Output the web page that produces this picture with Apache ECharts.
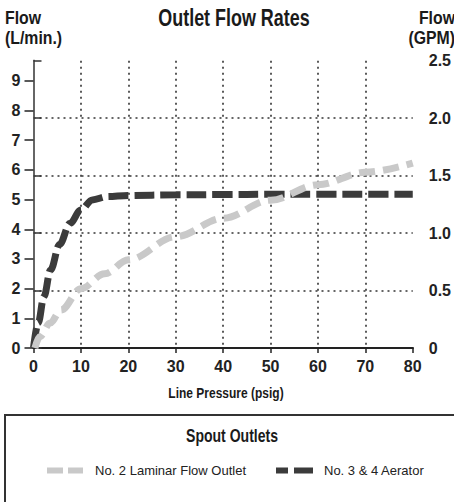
<!DOCTYPE html>
<html><head><meta charset="utf-8">
<script src="https://cdn.jsdelivr.net/npm/echarts@6/dist/echarts.min.js"></script>
<style>html,body{margin:0;padding:0;background:#fff}#c{width:454px;height:502px}</style>
</head><body><div id="c"></div>
<script>
// ---- data ----
const pressureTicks = [0, 10, 20, 30, 40, 50, 60, 70, 80];
const litreTicks = [0, 1, 2, 3, 4, 5, 6, 7, 8, 9];
const gpmTicks = [0, 0.5, 1.0, 1.5, 2.0, 2.5];
const aeratorPressure = [0, 1, 2.2, 3.6, 5.5, 7.7, 10, 12.4, 15.5, 20, 30, 40, 50, 60, 70, 80];
const aeratorFlow = [0, 0.85, 1.73, 2.63, 3.49, 4.2, 4.65, 4.99, 5.1, 5.14, 5.16, 5.17, 5.18, 5.18, 5.18, 5.18];
const laminarPressure = [0.3, 1.3, 3.5, 5.8, 10, 15, 20, 30, 40, 50, 60, 70, 80];
const laminarFlow = [0, 0.38, 0.84, 1.28, 2.0, 2.5, 2.97, 3.75, 4.37, 4.98, 5.5, 5.92, 6.23];
const seriesNames = ['No. 2 Laminar Flow Outlet', 'No. 3 & 4 Aerator'];

const F = "'Liberation Sans', Arial, sans-serif";
const TXT = '#222';
const DARK = '#3b3b3b';
const LIGHT = '#c9c9c9';
const DOT = { color: '#333', width: 1.6, type: [2, 4] };

const chart = echarts.init(document.getElementById('c'), null, { renderer: 'svg' });
chart.setOption({
  animation: false,
  backgroundColor: '#fff',
  grid: { left: 33.5, right: 36, top: 60.7, bottom: 154, containLabel: false },
  xAxis: [{
    type: 'value', min: pressureTicks[0], max: pressureTicks[pressureTicks.length - 1], interval: 10,
    position: 'bottom',
    axisLine: { show: true, lineStyle: { color: '#222', width: 2 } },
    axisTick: { show: true, length: 5, lineStyle: { color: '#222', width: 1.5 } },
    axisLabel: { margin: 10, fontFamily: F, fontWeight: 'bold', fontSize: 16, color: TXT },
    splitLine: { show: true, showMinLine: false, showMaxLine: false, lineStyle: DOT }
  }, {
    type: 'value', min: 0, max: 80, position: 'top',
    axisLine: { show: true, lineStyle: { color: '#222', width: 2 } },
    axisTick: { show: false }, axisLabel: { show: false }, splitLine: { show: false }
  }],
  yAxis: [{
    type: 'value', min: 0, max: 9.68, interval: 1, position: 'left',
    axisLine: { show: true, lineStyle: { color: '#222', width: 2 } },
    axisTick: { show: true, length: 9, customValues: litreTicks, lineStyle: { color: '#222', width: 1.5 } },
    axisLabel: { margin: 13, customValues: litreTicks, fontFamily: F, fontWeight: 'bold', fontSize: 16, color: TXT },
    splitLine: { show: false }
  }, {
    type: 'value', min: gpmTicks[0], max: gpmTicks[gpmTicks.length - 1], interval: 0.5, position: 'right',
    axisLine: { show: true, lineStyle: { color: '#666', width: 2 } },
    axisTick: { show: true, length: 8, lineStyle: { color: '#333', width: 1.5 } },
    axisLabel: { margin: 16, fontFamily: F, fontWeight: 'bold', fontSize: 16, color: TXT,
      formatter: v => v === 0 ? '0' : v.toFixed(1) },
    splitLine: { show: true, showMinLine: false, showMaxLine: false, lineStyle: DOT }
  }],
  legend: [{
    data: [seriesNames[0]], left: 39, top: 459, orient: 'horizontal', selectedMode: false,
    itemWidth: 36, itemHeight: 14,
    itemStyle: { color: 'rgba(0,0,0,0)', borderWidth: 0, opacity: 0 },
    lineStyle: { width: 6, type: [16, 5], cap: 'butt', color: LIGHT },
    textStyle: { fontFamily: F, fontSize: 13, color: TXT, padding: [0, 0, 0, 7] }
  }, {
    data: [seriesNames[1]], left: 268, top: 459, orient: 'horizontal', selectedMode: false,
    itemWidth: 37, itemHeight: 14,
    itemStyle: { color: 'rgba(0,0,0,0)', borderWidth: 0, opacity: 0 },
    lineStyle: { width: 6, type: [12, 6, 30, 1], cap: 'butt', color: DARK },
    textStyle: { fontFamily: F, fontSize: 13, color: TXT, padding: [0, 0, 0, 6] }
  }],
  graphic: [
    { type: 'text', x: 234, y: 18, scaleX: 0.78, style: { text: 'Outlet Flow Rates', fontFamily: F, fontWeight: 'bold', fontSize: 23, fill: '#1a1a1a', align: 'center', verticalAlign: 'middle' } },
    { type: 'text', x: 5, y: 8, scaleX: 0.88, style: { text: 'Flow\n(L/min.)', fontFamily: F, fontWeight: 'bold', fontSize: 18, lineHeight: 20, fill: '#1a1a1a', align: 'left', verticalAlign: 'top' } },
    { type: 'text', x: 455, y: 8, scaleX: 0.88, style: { text: 'Flow\n(GPM)', fontFamily: F, fontWeight: 'bold', fontSize: 18, lineHeight: 20, fill: '#1a1a1a', align: 'right', verticalAlign: 'top' } },
    { type: 'text', x: 226, y: 393, scaleX: 0.8, style: { text: 'Line Pressure (psig)', fontFamily: F, fontWeight: 'bold', fontSize: 15, fill: '#1a1a1a', align: 'center', verticalAlign: 'middle' } },
    { type: 'rect', shape: { x: 5, y: 415, width: 470, height: 120 }, style: { fill: 'none', stroke: '#333', lineWidth: 2 } },
    { type: 'text', x: 232, y: 435, scaleX: 0.78, style: { text: 'Spout Outlets', fontFamily: F, fontWeight: 'bold', fontSize: 18, fill: '#1a1a1a', align: 'center', verticalAlign: 'middle' } }
  ],
  series: [{
    name: seriesNames[1], type: 'line', xAxisIndex: 0, yAxisIndex: 0,
    data: aeratorPressure.map((p, i) => [p, aeratorFlow[i]]),
    smooth: 0.35, smoothMonotone: 'x', symbol: 'none', color: DARK,
    lineStyle: { color: DARK, width: 7, type: [20, 6], cap: 'butt' }, z: 3
  }, {
    name: seriesNames[0], type: 'line', xAxisIndex: 0, yAxisIndex: 0,
    data: laminarPressure.map((p, i) => [p, laminarFlow[i]]),
    smooth: 0.35, smoothMonotone: 'x', symbol: 'none', color: LIGHT,
    lineStyle: { color: LIGHT, width: 7, type: [16, 8], cap: 'butt' }, z: 4
  }]
});
</script></body></html>
